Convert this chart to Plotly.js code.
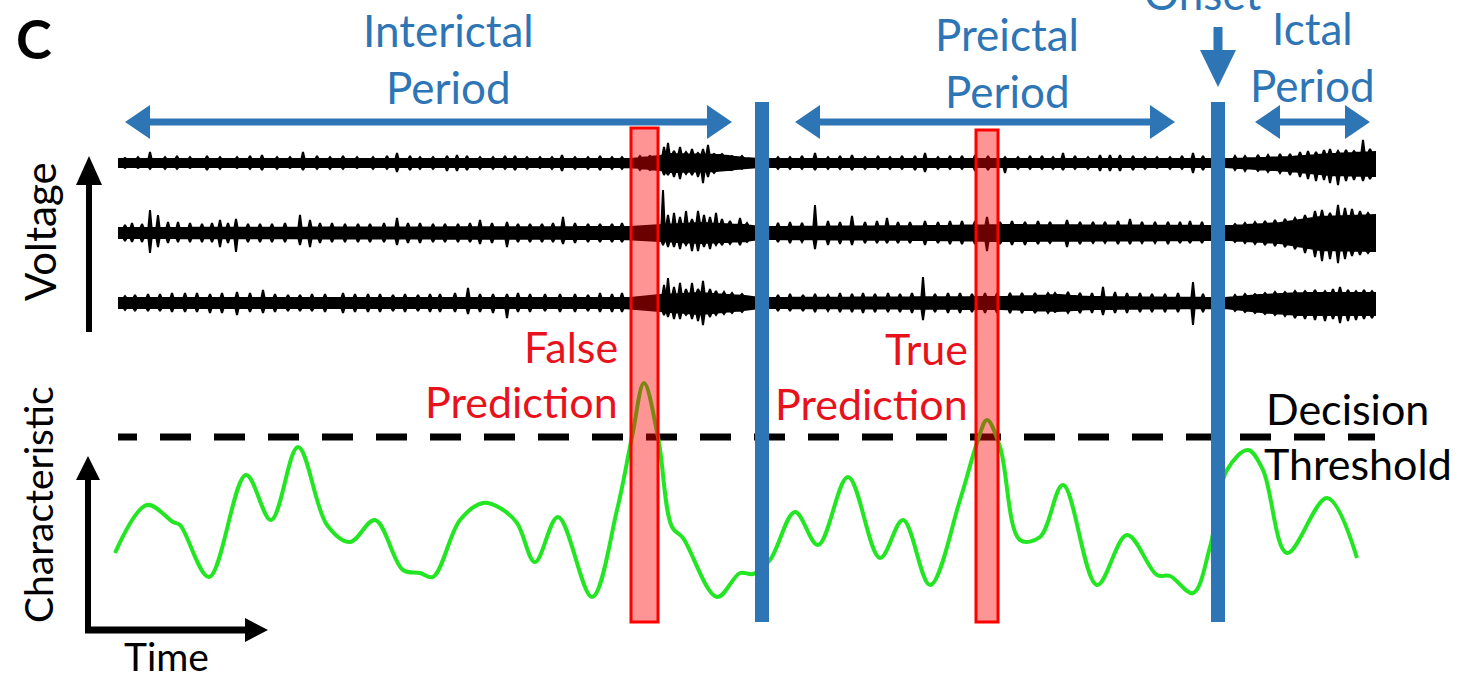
<!DOCTYPE html>
<html><head><meta charset="utf-8">
<script src="https://cdn.plot.ly/plotly-3.0.1.min.js"></script>
<style>html,body{margin:0;padding:0;background:#fff;overflow:hidden}#chart{width:1463px;height:677px}</style>
</head><body><div id="chart"></div>
<script>
// ---------- DATA (time runs left to right) ----------
// Characteristic (feature) curve
const featX = [115,147,173,180,209,246,271,298,327,350,375,403,420,433,460,483,500,517,535,558,592,617,632,644,658,672,683,717,740,753,770,795,818,848,880,903,930,960,977,987,1000,1020,1040,1063,1097,1127,1157,1170,1193,1210,1227,1248,1263,1287,1327,1357];
const featY = [553,505,522,525,577,475,520,447,525,542,520,570,573,577,520,503,508,523,562,517,597,510,437,383,437,527,538,597,573,574,560,512,545,477,558,520,585,500,443,420,447,540,537,485,585,535,575,576,593,547,470,450,470,553,498,558];
const thresholdLevel = 437;
const thresholdStart = 118, thresholdEnd = 1375;

// EEG channels: baseline level, background envelope, spikes (amplitudes above/below baseline)
const eegBaselines = [163, 233, 303];

const eeg1BaseX  = [118,630,660,670,720,745,760,1225,1290,1330,1375];
const eeg1BaseUp = [4,4,7,9,8,5,4,4,6,9,11];
const eeg1BaseDn = [4,4,7,9,8,5,4,4,8,12,13];
const eeg1SpikeX  = [125,138,150,165,177,190,207,220,237,250,262,277,290,303,317,330,343,357,373,387,397,410,420,433,447,457,467,480,493,505,515,527,540,552,562,575,588,600,612,622,
                     640,650,664,668,674,680,686,692,698,703,708,714,722,732,742,
                     778,790,802,815,828,840,852,865,878,890,902,915,925,938,950,962,975,988,1005,1018,1030,1042,1053,1063,1075,1088,1100,1110,1120,1133,1145,1157,1170,1182,1193,1203,
                     1235,1245,1258,1268,1280,1290,1300,1308,1316,1324,1330,1338,1346,1354,1363,1370];
const eeg1SpikeUp = [5,6,11,6,7,6,7,6,6,7,8,6,6,11,7,6,7,6,6,7,10,7,6,6,7,8,7,6,6,7,7,6,6,6,8,6,6,7,6,6,
                     7,7,16,20,12,16,11,14,10,14,18,9,9,7,7,
                     6,6,7,10,6,7,8,6,7,6,7,7,10,6,7,7,8,7,6,6,7,7,6,10,7,6,8,8,8,7,6,6,6,7,10,7,
                     7,7,8,8,9,9,11,12,11,13,14,12,13,12,23,14];
const eeg1SpikeDn = [5,5,6,6,6,5,7,6,5,6,7,6,5,7,6,6,6,5,6,6,9,7,6,6,8,8,7,6,6,6,7,6,5,6,8,6,6,7,6,6,
                     7,7,12,12,14,16,11,12,14,20,14,10,8,7,6,
                     6,6,6,7,6,6,7,6,6,6,6,7,9,6,6,6,8,7,10,6,6,6,6,7,6,6,8,8,8,7,6,5,6,6,10,7,
                     7,8,8,9,10,12,14,16,18,17,20,22,18,17,18,16];

const eeg2BaseX  = [118,630,660,700,745,760,940,1000,1230,1280,1320,1375];
const eeg2BaseUp = [5,6,8,10,8,6,7,8,7,10,16,18];
const eeg2BaseDn = [5,6,8,10,8,6,7,8,7,10,17,18];
const eeg2SpikeX  = [125,132,142,150,158,168,178,190,202,212,220,228,236,248,260,272,285,300,310,320,332,345,358,370,384,397,408,420,433,445,458,470,480,492,507,518,530,542,553,563,575,588,600,612,622,
                     663,668,674,680,686,692,698,704,710,716,722,730,740,747,
                     778,790,802,815,828,840,852,865,877,887,898,910,925,938,950,962,975,987,1000,1012,1025,1038,1050,1067,1080,1093,1105,1118,1130,1142,1155,1168,1180,1190,1202,
                     1235,1245,1255,1265,1275,1285,1295,1305,1315,1322,1330,1338,1345,1352,1360,1368];
const eeg2SpikeUp = [8,10,9,23,18,11,11,10,9,10,13,10,14,9,9,9,10,18,13,10,10,9,9,9,10,15,10,10,9,9,9,10,13,10,11,9,9,9,10,16,10,9,9,9,10,
                     43,18,20,16,22,14,22,18,16,20,14,12,15,10,
                     10,11,10,28,12,11,17,11,12,15,11,11,12,11,12,12,12,16,11,12,11,12,11,13,11,11,11,12,14,11,11,11,11,12,11,
                     9,10,11,12,13,14,15,18,22,23,20,28,25,24,22,20];
const eeg2SpikeDn = [8,9,9,20,14,10,9,9,9,9,14,10,19,9,9,9,9,12,14,10,9,9,9,9,9,12,10,10,9,9,9,9,11,10,14,9,9,9,9,11,10,9,9,9,9,
                     12,14,14,16,12,18,18,14,16,12,12,11,12,9,
                     9,10,9,16,12,11,12,10,10,10,10,10,12,10,11,11,11,18,11,12,12,11,10,14,11,10,10,11,11,10,10,11,10,10,10,
                     9,10,11,12,13,14,16,20,24,28,26,30,26,23,22,20];

const eeg3BaseX  = [118,630,660,700,745,760,1000,1060,1090,1225,1260,1300,1375];
const eeg3BaseUp = [5,5,8,10,7,5,6,8,6,5,8,10,10];
const eeg3BaseDn = [5,5,8,11,7,5,6,8,6,5,9,12,12];
const eeg3SpikeX  = [125,135,148,160,172,185,197,210,222,237,250,263,275,288,300,312,325,343,355,368,380,393,405,418,430,440,455,468,480,493,507,518,530,545,560,575,588,600,612,622,
                     664,668,674,680,686,692,698,703,710,716,724,732,742,
                     778,790,803,815,828,840,852,863,875,888,900,912,923,935,948,960,972,985,997,1010,1022,1035,1048,1055,1068,1080,1092,1103,1115,1127,1140,1152,1165,1178,1193,1203,
                     1235,1245,1255,1265,1275,1285,1295,1305,1315,1325,1333,1340,1348,1356,1364,1372];
const eeg3SpikeUp = [7,8,9,9,10,10,10,9,10,11,10,13,9,8,8,9,9,10,9,9,9,8,9,8,9,9,10,15,9,9,9,10,9,9,9,9,8,10,9,10,
                     18,25,16,20,14,20,14,22,14,12,11,10,9,
                     8,9,8,9,8,10,9,10,9,10,9,10,26,9,10,10,9,10,10,10,10,10,10,10,11,10,10,16,11,10,10,9,9,10,21,9,
                     8,9,9,10,11,11,12,12,13,12,14,16,13,12,13,12];
const eeg3SpikeDn = [7,8,8,8,9,9,9,10,10,12,9,10,9,8,8,8,9,10,9,9,9,8,9,8,9,9,9,11,9,10,15,9,9,8,9,9,8,9,9,9,
                     12,14,16,16,12,16,18,22,14,12,11,10,9,
                     8,8,8,9,8,9,9,10,9,9,9,10,17,9,10,10,9,10,10,10,10,10,10,9,10,10,10,12,10,10,9,9,9,9,22,9,
                     8,9,10,11,12,13,15,16,17,18,16,20,18,17,16,15];

// Events
const boundaryTimes = [762, 1218];          // end of interictal / seizure onset
const predictionStart = [631, 976];
const predictionEnd   = [658, 998];
const periodNames  = ["Interictal", "Preictal", "Ictal"];
const periodStart  = [125, 795, 1255];
const periodEnd    = [732, 1175, 1370];

// ---------- STYLE ----------
const BLUE = "#2e75b6", RED = "#e8121c", GREEN = "#22e622";
const FONT = "Lato, 'Open Sans', sans-serif";
const SPIKE_HALF = 1.6;

function interp(xs, ys, x) {
  if (x <= xs[0]) return ys[0];
  for (let i = 1; i < xs.length; i++) {
    if (x <= xs[i]) { const t = (x - xs[i-1]) / (xs[i] - xs[i-1]); return ys[i-1] + t * (ys[i] - ys[i-1]); }
  }
  return ys[ys.length - 1];
}
function eegBand(baseline, bX, bUp, bDn, sX, sUp, sDn) {
  const set = new Set(bX);
  sX.forEach(x => { set.add(x - SPIKE_HALF); set.add(x); set.add(x + SPIKE_HALF); });
  const xs = [...set].filter(x => x >= bX[0] && x <= bX[bX.length-1]).sort((a, b) => a - b);
  const up = xs.map(x => { let v = interp(bX, bUp, x); const k = sX.indexOf(x); if (k >= 0) v = Math.max(v, sUp[k]); return baseline - v; });
  const dn = xs.map(x => { let v = interp(bX, bDn, x); const k = sX.indexOf(x); if (k >= 0) v = Math.max(v, sDn[k]); return baseline + v; });
  return {
    x: xs.concat(xs.slice().reverse()), y: up.concat(dn.slice().reverse()),
    type: "scatter", mode: "lines", fill: "toself", fillcolor: "#000",
    line: { color: "#000", width: 2 }, hoverinfo: "skip"
  };
}

const traces = [
  eegBand(eegBaselines[0], eeg1BaseX, eeg1BaseUp, eeg1BaseDn, eeg1SpikeX, eeg1SpikeUp, eeg1SpikeDn),
  eegBand(eegBaselines[1], eeg2BaseX, eeg2BaseUp, eeg2BaseDn, eeg2SpikeX, eeg2SpikeUp, eeg2SpikeDn),
  eegBand(eegBaselines[2], eeg3BaseX, eeg3BaseUp, eeg3BaseDn, eeg3SpikeX, eeg3SpikeUp, eeg3SpikeDn),
];
let dash = "19px,23px";
for (let i = 0; i < 25; i++) dash += ",31px,23px";
traces.push({ x: [thresholdStart, thresholdEnd], y: [thresholdLevel, thresholdLevel], type: "scatter", mode: "lines",
  line: { color: "#000", width: 7, dash: dash }, hoverinfo: "skip" });
traces.push({ x: featX, y: featY, type: "scatter", mode: "lines",
  line: { color: GREEN, width: 4, shape: "spline", smoothing: 1 }, hoverinfo: "skip" });

// ---------- SHAPES ----------
const shapes = [];
function tri(p, color) {
  shapes.push({ type: "path", xref: "x", yref: "y", layer: "above", path: "M" + p.map(q => q.join(",")).join("L") + "Z",
    fillcolor: color, line: { width: 0 } });
}
function seg(x0, y0, x1, y1, w, color) {
  shapes.push({ type: "line", xref: "x", yref: "y", layer: "above", x0, y0, x1, y1, line: { color, width: w } });
}
// period double arrows
const arrowY = 122;
periodNames.forEach((n, i) => {
  const a = periodStart[i], b = periodEnd[i];
  seg(a + 10, arrowY, b - 10, arrowY, 7, BLUE);
  tri([[a, arrowY], [a + 25, arrowY - 17], [a + 25, arrowY + 17]], BLUE);
  tri([[b, arrowY], [b - 25, arrowY - 17], [b - 25, arrowY + 17]], BLUE);
});
// onset arrow
seg(boundaryTimes[1], 27, boundaryTimes[1], 55, 9, BLUE);
tri([[boundaryTimes[1] - 18, 50], [boundaryTimes[1] + 18, 50], [boundaryTimes[1], 87]], BLUE);
// boundaries
boundaryTimes.forEach(t => shapes.push({ type: "rect", xref: "x", yref: "y", layer: "above",
  x0: t - 7, x1: t + 7, y0: 102, y1: 622, fillcolor: BLUE, line: { width: 0 } }));
// prediction windows
predictionStart.forEach((s, i) => shapes.push({ type: "rect", xref: "x", yref: "y", layer: "above",
  x0: s, x1: predictionEnd[i], y0: i === 0 ? 128 : 130, y1: 622, fillcolor: "rgba(255,0,0,0.42)", line: { color: "#ff0000", width: 3 } }));
// axis arrows (left)
seg(89, 332, 89, 180, 6, "#000");
tri([[76, 185], [102, 185], [89, 156]], "#000");
seg(88, 632, 88, 475, 6, "#000");
tri([[76, 480], [100, 480], [88, 456]], "#000");
seg(85, 630, 250, 630, 7, "#000");
tri([[245, 618], [245, 642], [268, 630]], "#000");

// ---------- TEXT ----------
function ann(text, x, y, opt) {
  return Object.assign({ text, x, y, xref: "x", yref: "y", showarrow: false, xanchor: "center", yanchor: "middle",
    font: { family: FONT, size: 44, color: BLUE } }, opt || {});
}
const periodLabelX = [448, 1007, 1312];
const periodLabelY = [30, 34, 28];
const annotations = [
  ann("<b>C</b>", 34, 38, { font: { family: FONT, size: 54, color: "#000" } }),
  ann("Onset", 1202, 1 + 7 / 677, { yref: "paper" }),
  ann("False", 620, 346, { xanchor: "right", font: { family: FONT, size: 43, color: RED } }),
  ann("Prediction", 620, 401, { xanchor: "right", font: { family: FONT, size: 43, color: RED } }),
  ann("True", 970, 348, { xanchor: "right", font: { family: FONT, size: 43, color: RED } }),
  ann("Prediction", 970, 403, { xanchor: "right", font: { family: FONT, size: 43, color: RED } }),
  ann("Decision", 1264, 408, { xanchor: "left", font: { family: FONT, size: 43, color: "#000" } }),
  ann("Threshold", 1262, 463, { xanchor: "left", font: { family: FONT, size: 43, color: "#000" } }),
  ann("Voltage", 40, 232, { textangle: -90, font: { family: FONT, size: 42, color: "#000" } }),
  ann("Characteristic", 38, 505, { textangle: -90, font: { family: FONT, size: 39, color: "#000" } }),
  ann("Time", 166, 656, { font: { family: FONT, size: 39, color: "#000" } }),
];
periodNames.forEach((n, i) => {
  annotations.push(ann(n, periodLabelX[i], periodLabelY[i]));
  annotations.push(ann("Period", periodLabelX[i], periodLabelY[i] + 57));
});

const layout = {
  width: 1463, height: 677, margin: { l: 0, r: 0, t: 0, b: 0 }, showlegend: false,
  paper_bgcolor: "#fff", plot_bgcolor: "#fff",
  xaxis: { range: [0, 1463], visible: false, fixedrange: true },
  yaxis: { range: [677, 0], visible: false, fixedrange: true },
  shapes, annotations
};
Plotly.newPlot("chart", traces, layout, { staticPlot: true, displayModeBar: false });
</script>
</body></html>
